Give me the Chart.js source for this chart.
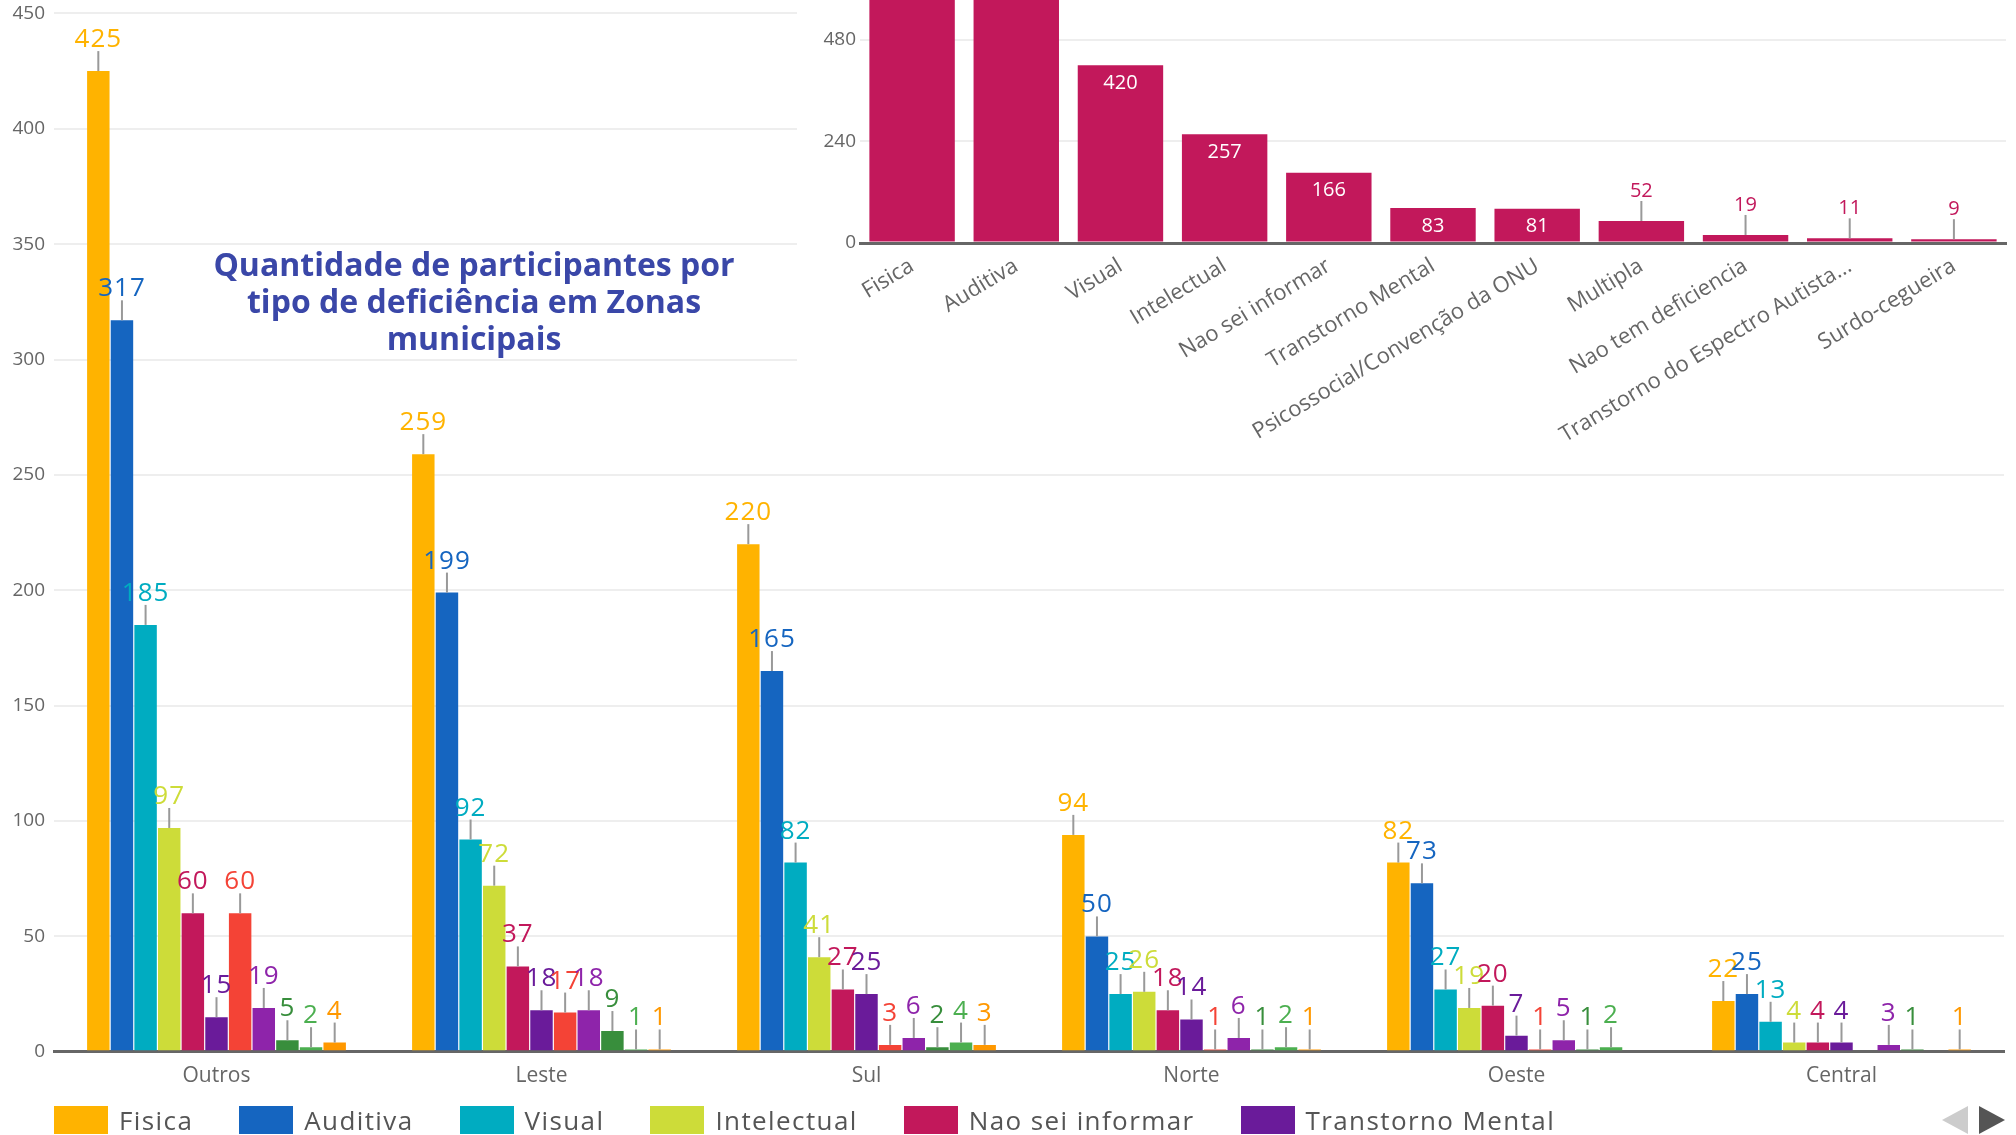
<!DOCTYPE html>
<html>
<head>
<meta charset="utf-8">
<script src="https://cdn.jsdelivr.net/npm/chart.js@4.4.0/dist/chart.umd.min.js"></script>
<style>
  html, body { margin: 0; padding: 0; background: #fff; }
  #wrap { position: relative; width: 2016px; height: 1135px; overflow: hidden; font-family: 'Open Sans', sans-serif; }
  #main { position: absolute; left: 0; top: -7px; }
  #title { position: absolute; left: 124px; top: 245px; width: 700px; text-align: center;
           font: 700 32px/37px 'Open Sans', sans-serif; color: #3a47a8; }
  #insetBox { position: absolute; left: 797px; top: 0; width: 1219px; height: 440px; background: #fff; }
  #legend { position: absolute; left: 54px; top: 1106px; display: flex; }
  .item { display: flex; align-items: center; margin-right: 46px; font-size: 26px; line-height: 28px;
          letter-spacing: 1.4px; color: #555; }
  .box { width: 54px; height: 28px; margin-right: 11px; }
  #prev { position: absolute; left: 1942px; top: 1106px; width: 0; height: 0;
          border-top: 14px solid transparent; border-bottom: 14px solid transparent; border-right: 26px solid #ccc; }
  #next { position: absolute; left: 1979px; top: 1106px; width: 0; height: 0;
          border-top: 14px solid transparent; border-bottom: 14px solid transparent; border-left: 26px solid #555; }
</style>
</head>
<body>
<div id="wrap">
  <canvas id="main" width="2016" height="1135"></canvas>
  <div id="title">Quantidade de participantes por<br>tipo de deficiência em Zonas<br>municipais</div>
  <div id="insetBox"><canvas id="inset" width="1219" height="440"></canvas></div>
  <div id="legend"></div>
  <div id="prev"></div>
  <div id="next"></div>
</div>
<script>
// dados por zona
const zonas = ['Outros', 'Leste', 'Sul', 'Norte', 'Oeste', 'Central'];
const tipos = ['Fisica', 'Auditiva', 'Visual', 'Intelectual', 'Nao sei informar', 'Transtorno Mental',
               'Psicossocial/Convenção da ONU', 'Multipla', 'Nao tem deficiencia',
               'Transtorno do Espectro Autista (TEA)', 'Surdo-cegueira'];
const cores = ['#FFB300', '#1565C0', '#00ACC1', '#CDDC39', '#C2185B', '#6A1B9A',
               '#F44336', '#8E24AA', '#388E3C', '#4CAF50', '#FF9800'];

const fisica = [425, 259, 220, 94, 82, 22];
const auditiva = [317, 199, 165, 50, 73, 25];
const visual = [185, 92, 82, 25, 27, 13];
const intelectual = [97, 72, 41, 26, 19, 4];
const naoSeiInformar = [60, 37, 27, 18, 20, 4];
const transtornoMental = [15, 18, 25, 14, 7, 4];
const psicossocial = [60, 17, 3, 1, 1, null];
const multipla = [19, 18, 6, 6, 5, 3];
const naoTemDeficiencia = [5, 9, 2, 1, 1, 1];
const autismo = [2, 1, 4, 2, 2, null];
const surdoCegueira = [4, 1, 3, 1, null, 1];

// totais por tipo (grafico menor)
const totais = [1102, 829, 420, 257, 166, 83, 81, 52, 19, 11, 9];
const corTotais = '#C2185B';

const eixoPrincipal = { max: 450, passo: 50 };
const eixoMenor = { max: 538, passo: 240 };

const series = [fisica, auditiva, visual, intelectual, naoSeiInformar, transtornoMental,
                psicossocial, multipla, naoTemDeficiencia, autismo, surdoCegueira];

// rotulos com linha guia
const rotulos = {
  id: 'rotulos',
  afterDatasetsDraw(chart, args, opts) {
    const ctx = chart.ctx;
    ctx.save();
    ctx.font = opts.font;
    ctx.letterSpacing = opts.spacing || '0px';
    ctx.textAlign = 'center';
    chart.data.datasets.forEach((ds, i) => {
      const meta = chart.getDatasetMeta(i);
      meta.data.forEach((bar, j) => {
        const v = ds.data[j];
        if (v == null) return;
        const h = bar.base - bar.y;
        if (opts.inside && h > 30) {
          ctx.fillStyle = '#fff';
          ctx.textBaseline = 'top';
          ctx.fillText(v, bar.x, bar.y + 8);
          return;
        }
        ctx.strokeStyle = '#999';
        ctx.lineWidth = 2;
        ctx.beginPath();
        ctx.moveTo(bar.x, bar.y);
        ctx.lineTo(bar.x, bar.y - 20);
        ctx.stroke();
        ctx.fillStyle = ds.backgroundColor;
        ctx.textBaseline = 'alphabetic';
        ctx.fillText(v, bar.x, bar.y - 24);
      });
    });
    ctx.restore();
  }
};

const mainChart = new Chart(document.getElementById('main'), {
  type: 'bar',
  data: {
    labels: zonas,
    datasets: series.map((d, i) => ({
      label: tipos[i],
      data: d,
      backgroundColor: cores[i],
      categoryPercentage: 0.8,
      barPercentage: 0.95
    }))
  },
  options: {
    responsive: false,
    animation: false,
    layout: { padding: { top: 7, right: 12, bottom: 35, left: 0 } },
    plugins: {
      legend: { display: false },
      tooltip: { enabled: false },
      rotulos: { font: '26px "Open Sans"', spacing: '1px' }
    },
    scales: {
      x: {
        grid: { display: false },
        border: { color: '#666', width: 3 },
        ticks: { color: '#666', font: { family: 'Open Sans', size: 21 }, padding: 4 }
      },
      y: {
        min: 0,
        max: eixoPrincipal.max,
        afterFit: s => { s.width = 54; },
        border: { display: false },
        grid: {
          drawTicks: false,
          color: c => c.tick.value === 0 ? '#666' : '#eeeeee',
          lineWidth: c => c.tick.value === 0 ? 3 : 2
        },
        ticks: { stepSize: eixoPrincipal.passo, color: '#666', font: { family: 'Open Sans', size: 19 }, padding: 9 }
      }
    }
  },
  plugins: [rotulos]
});

new Chart(document.getElementById('inset'), {
  type: 'bar',
  data: {
    labels: tipos,
    datasets: [{
      label: 'Total',
      data: totais,
      backgroundColor: corTotais,
      categoryPercentage: 1,
      barPercentage: 0.82,
      clip: false
    }]
  },
  options: {
    responsive: false,
    animation: false,
    layout: { padding: { top: 0, right: 10, bottom: 0, left: 0 } },
    plugins: {
      legend: { display: false },
      tooltip: { enabled: false },
      rotulos: { font: '20px "Open Sans"', inside: true }
    },
    scales: {
      x: {
        afterFit: s => { s.height = 197; },
        grid: { display: false },
        border: { color: '#666', width: 3 },
        ticks: {
          color: '#666', font: { family: 'Open Sans', size: 22 }, padding: 2,
          minRotation: 31, maxRotation: 31, autoSkip: false,
          callback: function (v) {
            const t = this.getLabelForValue(v);
            return t.length > 30 ? t.slice(0, 30) + '...' : t;
          }
        }
      },
      y: {
        min: 0,
        max: eixoMenor.max,
        afterFit: s => { s.width = 63; },
        border: { display: false },
        grid: {
          drawTicks: false,
          color: c => c.tick.value === 0 ? '#666' : '#eeeeee',
          lineWidth: c => c.tick.value === 0 ? 3 : 2
        },
        ticks: { stepSize: eixoMenor.passo, includeBounds: false, color: '#666',
                 font: { family: 'Open Sans', size: 19 }, padding: 4 }
      }
    }
  },
  plugins: [rotulos]
});

// legenda (primeira pagina)
const legend = document.getElementById('legend');
mainChart.data.datasets.slice(0, 6).forEach(ds => {
  const item = document.createElement('div');
  item.className = 'item';
  item.innerHTML = `<span class="box" style="background:${ds.backgroundColor}"></span>${ds.label}`;
  legend.appendChild(item);
});
</script>
</body>
</html>
